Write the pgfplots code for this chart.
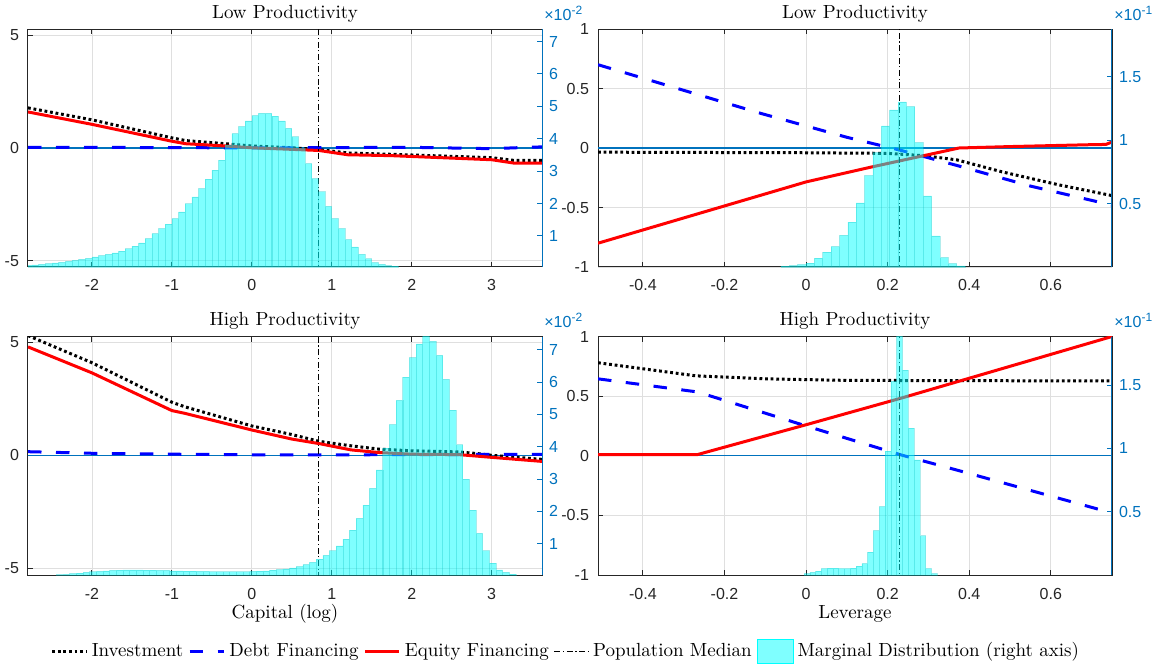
\documentclass[border=0pt]{standalone}
\usepackage{fontspec}
\setsansfont{Liberation Sans}
\usepackage{pgfplots}
\usepackage{pgfplotstable}
\pgfplotsset{compat=1.18}

\definecolor{mblue}{rgb}{0,0.447,0.741}
\definecolor{axgray}{rgb}{0.15,0.15,0.15}
\definecolor{hcyan}{rgb}{0,1,1}
\newcommand\ttl{\fontsize{9.5}{11}\selectfont}
\newcommand\tkf{\sffamily\fontsize{8}{9}\selectfont}

% marginal distributions: bin centre, share (right axis units)
\pgfplotstableread{
x y
-2.792 0.09
-2.708 0.10
-2.625 0.12
-2.542 0.14
-2.458 0.16
-2.375 0.18
-2.292 0.21
-2.208 0.24
-2.125 0.27
-2.042 0.30
-1.958 0.35
-1.875 0.39
-1.792 0.43
-1.708 0.47
-1.625 0.53
-1.542 0.60
-1.458 0.68
-1.375 0.78
-1.292 0.91
-1.208 1.07
-1.125 1.22
-1.042 1.36
-0.958 1.53
-0.875 1.74
-0.792 1.99
-0.708 2.20
-0.625 2.46
-0.542 2.75
-0.458 3.03
-0.375 3.34
-0.292 3.80
-0.208 4.16
-0.125 4.37
-0.042 4.55
0.042 4.71
0.125 4.78
0.208 4.78
0.292 4.70
0.375 4.55
0.458 4.32
0.542 4.06
0.625 3.70
0.708 3.23
0.792 2.77
0.875 2.36
0.958 1.91
1.042 1.53
1.125 1.22
1.208 0.88
1.292 0.66
1.375 0.43
1.458 0.29
1.542 0.17
1.625 0.12
1.708 0.08
1.792 0.06
}\histTL

\pgfplotstableread{
x y
-2.403 0.04
-2.320 0.05
-2.237 0.07
-2.153 0.09
-2.070 0.11
-1.987 0.13
-1.903 0.14
-1.820 0.16
-1.737 0.17
-1.653 0.18
-1.570 0.19
-1.487 0.19
-1.403 0.19
-1.320 0.18
-1.237 0.18
-1.153 0.17
-1.070 0.17
-0.987 0.16
-0.903 0.16
-0.820 0.15
-0.737 0.15
-0.653 0.14
-0.570 0.14
-0.487 0.13
-0.403 0.13
-0.320 0.13
-0.237 0.13
-0.153 0.13
-0.070 0.13
0.013 0.14
0.097 0.15
0.180 0.16
0.263 0.18
0.347 0.20
0.430 0.22
0.513 0.25
0.597 0.29
0.680 0.35
0.763 0.42
0.847 0.52
0.930 0.64
1.013 0.78
1.097 0.93
1.180 1.14
1.263 1.42
1.347 1.78
1.430 2.19
1.513 2.71
1.597 3.28
1.680 3.96
1.763 4.68
1.847 5.43
1.930 6.15
2.013 6.76
2.097 7.18
2.180 7.45
2.263 7.26
2.347 6.83
2.430 6.08
2.513 5.13
2.597 4.06
2.680 3.00
2.763 2.04
2.847 1.32
2.930 0.78
3.013 0.40
3.097 0.19
3.180 0.11
3.263 0.06
}\histBL

\pgfplotstableread{
x y
-0.0513 0.006
-0.0308 0.010
-0.0103 0.018
0.0103 0.031
0.0308 0.070
0.0513 0.117
0.0718 0.161
0.0923 0.250
0.1128 0.354
0.1333 0.505
0.1538 0.719
0.1743 0.901
0.1948 1.112
0.2153 1.237
0.2358 1.300
0.2563 1.263
0.2768 0.979
0.2973 0.560
0.3178 0.245
0.3383 0.073
0.3588 0.026
0.3793 0.008
}\histTR

\pgfplotstableread{
x y
0.0022 0.010
0.0164 0.020
0.0305 0.030
0.0447 0.050
0.0589 0.055
0.0731 0.055
0.0873 0.050
0.1015 0.050
0.1157 0.055
0.1299 0.070
0.1441 0.090
0.1583 0.180
0.1724 0.350
0.1866 0.540
0.2008 0.980
0.2150 1.530
0.2292 2.400
0.2434 1.620
0.2576 1.160
0.2718 0.910
0.2860 0.310
0.3001 0.050
0.3143 0.010
}\histBR

\pgfplotsset{
  lft/.style={
    width=257pt, scale only axis,
    axis line style={axgray, line width=0.5pt},
    grid=major, grid style={gray!25, line width=0.4pt},
    tick align=inside, major tick length=2.5pt,
    xtick pos=both, ytick pos=left,
    tick style={axgray, line width=0.5pt},
    tick label style={font=\tkf, text=axgray},
    xticklabel style={anchor=base, yshift=-12pt},
    yticklabel style={xshift=-1pt},
    /pgf/number format/assume math mode=true,
  },
  rgt/.style={
    width=257pt, scale only axis,
    axis x line=none, axis y line*=right,
    y axis line style={mblue, line width=0.5pt},
    ytick style={mblue, line width=0.5pt},
    tick align=inside, major tick length=2.5pt,
    yticklabel style={font=\tkf, text=mblue},
    /pgf/number format/assume math mode=true,
  },
  inv/.style={black, line width=1.5pt, dash pattern=on 1.4pt off 1.4pt},
  debt/.style={blue, line width=1.5pt, dash pattern=on 6.75pt off 7.25pt},
  eqf/.style={red, line width=1.5pt},
  med/.style={black, line width=0.5pt, dash pattern=on 3pt off 1.3pt on 0.6pt off 1.3pt},
  zl/.style={mblue, line width=0.7pt},
  hist/.style={ybar, fill=hcyan, fill opacity=0.5, draw=hcyan!75!black, draw opacity=0.3, line width=0.3pt},
}

\begin{document}
\begin{tikzpicture}
\path[use as bounding box] (0,0) rectangle (582pt,-332.5pt);

% ---------- top left
\begin{axis}[lft, name=tl, at={(14pt,-14.5pt)}, anchor=north west, height=119pt,
  xmin=-2.8, xmax=3.63, ymin=-5.28, ymax=5.28,
  xtick={-2,-1,0,1,2,3}, ytick={-5,0,5}]
\addplot[zl] coordinates {(-3,0) (4,0)};
\addplot[inv] coordinates {(-2.8,1.78) (-2,1.25) (-1,0.45) (-0.83,0.33) (-0.33,0.19) (0,0.09) (0.5,0.01) (0.84,-0.07) (1.2,-0.22) (1.75,-0.28) (3.0,-0.43) (3.28,-0.55) (3.63,-0.55)};
\addplot[debt] coordinates {(-2.8,0.03) (-1,0.02) (0,0.0) (1,0.02) (2,0.03) (3,-0.03) (3.3,0.01) (3.63,0.05)};
\addplot[eqf] coordinates {(-2.8,1.6) (-2,1.05) (-1,0.3) (-0.83,0.19) (-0.33,0.09) (0,0.01) (0.5,-0.06) (0.84,-0.11) (1.2,-0.3) (1.75,-0.34) (3.0,-0.52) (3.28,-0.67) (3.63,-0.67)};
\addplot[med] coordinates {(0.835,-6) (0.835,6)};
\end{axis}
\begin{axis}[rgt, name=tlr, at={(14pt,-14.5pt)}, anchor=north west, height=119pt,
  xmin=-2.8, xmax=3.63, ymin=0.036, ymax=7.39, ytick={1,2,3,4,5,6,7}]
\addplot[hist, bar width=0.08333] table {\histTL};
\end{axis}

% ---------- top right
\begin{axis}[lft, name=tr, at={(299pt,-14.5pt)}, anchor=north west, height=119pt,
  xmin=-0.51, xmax=0.75, ymin=-1, ymax=1,
  xtick={-0.4,-0.2,0,0.2,0.4,0.6}, ytick={-1,-0.5,0,0.5,1}]
\addplot[zl] coordinates {(-1,0) (1,0)};
\addplot[inv] coordinates {(-0.51,-0.035) (0,-0.04) (0.2,-0.045) (0.29,-0.065) (0.37,-0.1) (0.48,-0.2) (0.62,-0.31) (0.75,-0.4)};
\addplot[debt] coordinates {(-0.51,0.70) (-0.11,0.29) (0.1,0.09) (0.235,-0.022) (0.37,-0.147) (0.55,-0.32) (0.75,-0.48)};
\addplot[eqf] coordinates {(-0.51,-0.80) (0,-0.285) (0.16,-0.16) (0.375,0.0) (0.5,0.012) (0.7,0.028) (0.735,0.03) (0.75,0.05)};
\addplot[med] coordinates {(0.23,-2) (0.23,2)};
\end{axis}
\begin{axis}[rgt, name=trr, at={(299pt,-14.5pt)}, anchor=north west, height=119pt,
  xmin=-0.51, xmax=0.75, ymin=0, ymax=1.875, ytick={0.5,1,1.5}]
\addplot[hist, bar width=0.0205] table {\histTR};
\end{axis}

% ---------- bottom left
\begin{axis}[lft, name=bl, at={(14pt,-168.25pt)}, anchor=north west, height=119.25pt,
  xmin=-2.8, xmax=3.63, ymin=-5.3, ymax=5.26,
  xtick={-2,-1,0,1,2,3}, ytick={-5,0,5}]
\addplot[zl] coordinates {(-3,0) (4,0)};
\addplot[inv] coordinates {(-2.8,5.3) (-2,4.1) (-1,2.35) (-0.84,2.15) (0,1.3) (0.5,0.92) (0.84,0.62) (1.24,0.42) (1.6,0.27) (2,0.2) (2.59,0.15) (2.84,0.07) (3,0) (3.63,-0.18)};
\addplot[debt] coordinates {(-2.8,0.16) (-2,0.09) (-1,0.05) (0,0.02) (1,0.02) (2,0.03) (3,0.04) (3.63,0.04)};
\addplot[eqf] coordinates {(-2.8,4.8) (-2,3.65) (-1,1.98) (-0.84,1.86) (0,1.12) (0.5,0.72) (0.84,0.52) (1.24,0.24) (1.6,0.12) (2,0.05) (2.59,0.03) (3,-0.09) (3.63,-0.27)};
\addplot[med] coordinates {(0.835,-6) (0.835,6)};
\end{axis}
\begin{axis}[rgt, name=blr, at={(14pt,-168.25pt)}, anchor=north west, height=119.25pt,
  xmin=-2.8, xmax=3.63, ymin=0.03, ymax=7.41, ytick={1,2,3,4,5,6,7}]
\addplot[hist, bar width=0.08333] table {\histBL};
\end{axis}

% ---------- bottom right
\begin{axis}[lft, name=br, at={(299pt,-168.25pt)}, anchor=north west, height=119.25pt,
  xmin=-0.51, xmax=0.75, ymin=-1, ymax=1,
  xtick={-0.4,-0.2,0,0.2,0.4,0.6}, ytick={-1,-0.5,0,0.5,1}]
\addplot[zl] coordinates {(-1,0) (1,0)};
\addplot[inv] coordinates {(-0.51,0.78) (-0.27,0.67) (-0.1,0.645) (0.1,0.632) (0.75,0.627)};
\addplot[debt] coordinates {(-0.51,0.645) (-0.266,0.535) (0,0.25) (0.235,0.005) (0.375,-0.125) (0.75,-0.48)};
\addplot[eqf] coordinates {(-0.51,0.01) (-0.266,0.01) (0,0.26) (0.235,0.485) (0.375,0.625) (0.75,1.0)};
\addplot[med] coordinates {(0.23,-2) (0.23,2)};
\end{axis}
\begin{axis}[rgt, name=brr, at={(299pt,-168.25pt)}, anchor=north west, height=119.25pt,
  xmin=-0.51, xmax=0.75, ymin=0, ymax=1.885, ytick={0.5,1,1.5}]
\addplot[hist, bar width=0.0142] table {\histBR};
\end{axis}

% titles, axis labels and exponent labels of the right axes
\foreach \a/\t in {tl/Low, tr/Low, bl/High, br/High}
  \node[anchor=base, font=\ttl, inner sep=0pt] at ([yshift=5.5pt]\a.north) {\t{} Productivity};
\node[anchor=base, font=\ttl, inner sep=0pt] at ([yshift=-21.5pt]bl.south) {Capital (log)};
\node[anchor=base, font=\ttl, inner sep=0pt] at ([yshift=-21.5pt]br.south) {Leverage};
\foreach \a/\e in {tlr/-2, trr/-1, blr/-2, brr/-1}
  \node[anchor=base west, text=mblue, font=\tkf, inner sep=0pt]
    at ([xshift=1pt, yshift=4.5pt]\a.north east) {×10\textsuperscript{\e}};

% ---------- shared legend
\begin{axis}[at={(0pt,-332.5pt)}, anchor=south west, width=582pt, height=332.5pt,
  scale only axis, hide axis, xmin=0, xmax=1, ymin=0, ymax=1,
  legend columns=-1, legend cell align=left,
  legend style={at={(0.487,0.021)}, anchor=center, draw=none, fill=none,
    font=\ttl, inner sep=0pt,
    /tikz/every even column/.append style={column sep=0.5pt}}]
\addlegendimage{inv}
\addlegendimage{debt}
\addlegendimage{eqf}
\addlegendimage{med}
\addlegendimage{legend image code/.code={\fill[hcyan, fill opacity=0.5] (0pt,-6pt) rectangle (18pt,6pt);}}
\legend{Investment, Debt Financing, Equity Financing, Population Median, Marginal Distribution (right axis)}
\end{axis}
\end{tikzpicture}
\end{document}
